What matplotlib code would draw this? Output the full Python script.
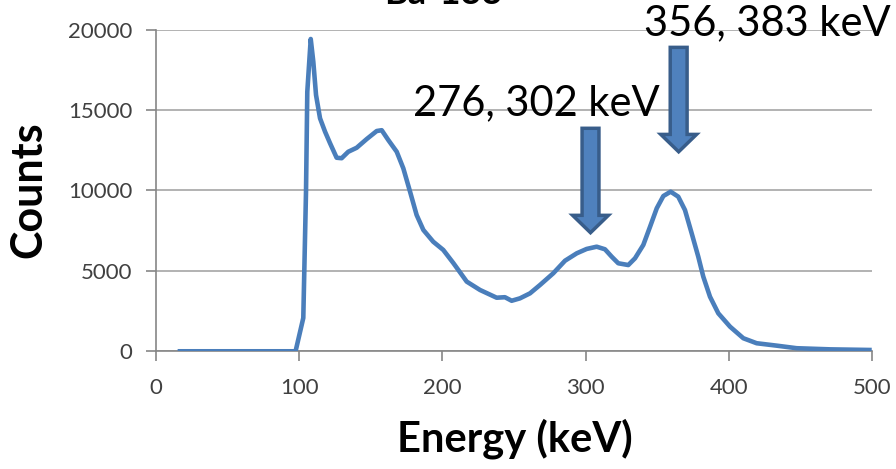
import matplotlib.pyplot as plt
from matplotlib.patches import FancyArrow

# Ba-133 gamma spectrum, counts per energy bin
energy_kev = [15.0, 97.4, 102.8, 104.7, 105.6, 108.0, 109.8, 111.7, 114.5, 118.0,
              121.5, 126.1, 129.6, 134.2, 140.1, 147.1, 154.1, 157.6, 162.2, 168.1,
              172.7, 177.4, 182.0, 186.7, 193.6, 200.6, 207.6, 217.0, 226.3, 237.9,
              243.7, 248.4, 254.2, 261.2, 268.2, 277.5, 285.7, 293.9, 300.8, 307.8,
              313.6, 318.3, 322.9, 329.9, 334.6, 340.4, 345.1, 349.8, 354.4, 359.5,
              364.8, 369.5, 374.2, 378.8, 382.3, 387.0, 392.8, 401.0, 410.3, 419.6,
              433.6, 447.6, 470.9, 500.0]
counts = [0, 0, 2070, 9920, 16130, 19410, 18000, 15930, 14480, 13650,
          12930, 12030, 12000, 12400, 12650, 13190, 13690, 13740, 13130, 12400,
          11370, 9920, 8470, 7540, 6810, 6300, 5490, 4330, 3810, 3330,
          3360, 3140, 3290, 3600, 4120, 4850, 5630, 6090, 6360, 6500,
          6340, 5880, 5470, 5360, 5780, 6610, 7740, 8890, 9650, 9920,
          9610, 8780, 7330, 5880, 4640, 3390, 2360, 1530, 810, 500,
          350, 190, 120, 80]

# peak markers: label, arrow x, arrow top, arrow tip
peak_labels = ["276, 302 keV", "356, 383 keV"]
label_x = [265.5, 426.8]
label_y = [14690, 19660]
arrow_x = [303.5, 365.1]
arrow_top = [13860, 18890]
arrow_tip = [7370, 12400]

plt.rcParams['font.family'] = ['Lato', 'DejaVu Sans']

fig = plt.figure(figsize=(8.96, 4.69), dpi=100)
ax = fig.add_axes([0.1743, 0.2510, 0.9729 - 0.1743, 0.9371 - 0.2510])

ax.plot(energy_kev, counts, color='#4a7ebb', lw=3.3, solid_joinstyle='round',
        solid_capstyle='butt', zorder=3)

ax.set_xlim(0, 500)
ax.set_ylim(0, 20000)
ax.set_xticks(range(0, 501, 100))
ax.set_yticks(range(0, 20001, 5000))
ax.grid(axis='y', color='#a6a6a6', lw=1.2)
ax.set_axisbelow(True)
for s in ['top', 'right']:
    ax.spines[s].set_visible(False)
for s in ['left', 'bottom']:
    ax.spines[s].set_color('#868686')
    ax.spines[s].set_linewidth(1.2)
ax.tick_params(direction='out', length=7, width=1.2, color='#868686',
               labelcolor='#404040', labelsize=16)
ax.tick_params(axis='y', pad=10)
ax.tick_params(axis='x', pad=12)

for i in range(len(peak_labels)):
    head = 1080
    arr = FancyArrow(arrow_x[i], arrow_top[i], 0, arrow_tip[i] - arrow_top[i],
                     width=11.8, head_width=25, head_length=head,
                     length_includes_head=True, facecolor='#4f81bd',
                     edgecolor='#385d8a', lw=2.5, zorder=4)
    ax.add_patch(arr)
    ax.text(label_x[i], label_y[i], peak_labels[i], fontsize=30, ha='center',
            va='baseline', color='black', zorder=5)

fig.text(443 / 896, 1 - 4 / 469, "Ba-133", fontsize=26, fontweight='bold',
         ha='center', va='baseline')
fig.text(28 / 896, 1 - 190 / 469, "Counts", fontsize=31, fontweight='bold',
         rotation=90, ha='center', va='center')
fig.text(515 / 896, 1 - 451.7 / 469, "Energy (keV)", fontsize=30,
         fontweight='bold', ha='center', va='baseline')

fig.savefig('out.png', dpi=100)
